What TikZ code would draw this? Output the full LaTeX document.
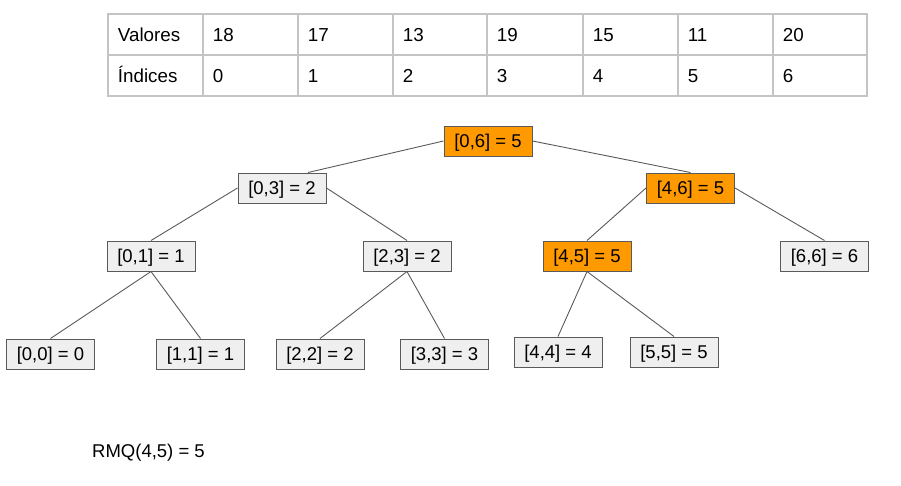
\documentclass[tikz,border=0pt]{standalone}
\usepackage{fontspec}
\setmainfont{Liberation Sans}
\definecolor{gridgray}{HTML}{C4C4C4}
\definecolor{boxgray}{HTML}{EFEFEF}
\definecolor{edgegray}{HTML}{5A5A5A}
\definecolor{hiorange}{HTML}{FF9900}
\tikzset{
  cell/.style={anchor=base west, inner sep=0pt, font=\fontsize{18.8}{22}\selectfont},
  tnode/.style={draw=edgegray, line width=1pt, fill=boxgray, minimum width=88pt, minimum height=30pt, inner sep=0pt, text depth=0pt, font=\fontsize{18.5}{22}\selectfont},
  hinode/.style={tnode, fill=hiorange},
  link/.style={draw=edgegray, line width=0.9pt}
}
\begin{document}
\begin{tikzpicture}[x=1pt,y=-1pt]
\useasboundingbox (0,0) rectangle (901,485);
% table grid
\draw[gridgray, line width=1.4pt] (108,14) rectangle (867,96);
\draw[gridgray, line width=1.4pt] (108,55) -- (867,55);
\foreach \x in {203,298,393,487,583,678,773}
  \draw[gridgray, line width=1.4pt] (\x,14) -- (\x,96);
% table text
\node[cell] (v0) at (117.7,41) {Valores};
\node[cell] (i0) at (117.7,82) {Índices};
\node[cell] (v1) at (212.7,41) {18};
\node[cell] (v2) at (307.7,41) {17};
\node[cell] (v3) at (402.7,41) {13};
\node[cell] (v4) at (496.7,41) {19};
\node[cell] (v5) at (592.7,41) {15};
\node[cell] (v6) at (687.7,41) {11};
\node[cell] (v7) at (782.7,41) {20};
\node[cell] (i1) at (212.7,82) {0};
\node[cell] (i2) at (307.7,82) {1};
\node[cell] (i3) at (402.7,82) {2};
\node[cell] (i4) at (496.7,82) {3};
\node[cell] (i5) at (592.7,82) {4};
\node[cell] (i6) at (687.7,82) {5};
\node[cell] (i7) at (782.7,82) {6};
% tree nodes
\node[hinode] (n06) at (488,141) {[0,6] = 5};
\node[tnode]  (n03) at (282,188) {[0,3] = 2};
\node[hinode] (n46) at (690.5,188) {[4,6] = 5};
\node[tnode]  (n01) at (151,256) {[0,1] = 1};
\node[tnode]  (n23) at (407,256) {[2,3] = 2};
\node[hinode] (n45) at (587,256) {[4,5] = 5};
\node[tnode]  (n66) at (824.5,256) {[6,6] = 6};
\node[tnode]  (n00) at (50.5,354) {[0,0] = 0};
\node[tnode]  (n11) at (200.5,354) {[1,1] = 1};
\node[tnode]  (n22) at (320,354) {[2,2] = 2};
\node[tnode]  (n33) at (444.5,354) {[3,3] = 3};
\node[tnode]  (n44) at (558,352) {[4,4] = 4};
\node[tnode]  (n55) at (674,352) {[5,5] = 5};
% edges
\draw[link] (n06.west) -- ([xshift=26pt]n03.north);
\draw[link] (n06.east) -- (n46.north);
\draw[link] (n03.west) -- (n01.north);
\draw[link] (n03.east) -- (n23.north);
\draw[link] (n46.west) -- (n45.north);
\draw[link] (n46.east) -- (n66.north);
\draw[link] (n01.south) -- (n00.north);
\draw[link] (n01.south) -- (n11.north);
\draw[link] (n23.south) -- (n22.north);
\draw[link] (n23.south) -- (n33.north);
\draw[link] (n45.south) -- (n44.north);
\draw[link] (n45.south) -- (n55.north);
% result
\node[cell, font=\fontsize{18.5}{22}\selectfont] (rmq) at (92,457) {RMQ(4,5) = 5};
\end{tikzpicture}
\end{document}
